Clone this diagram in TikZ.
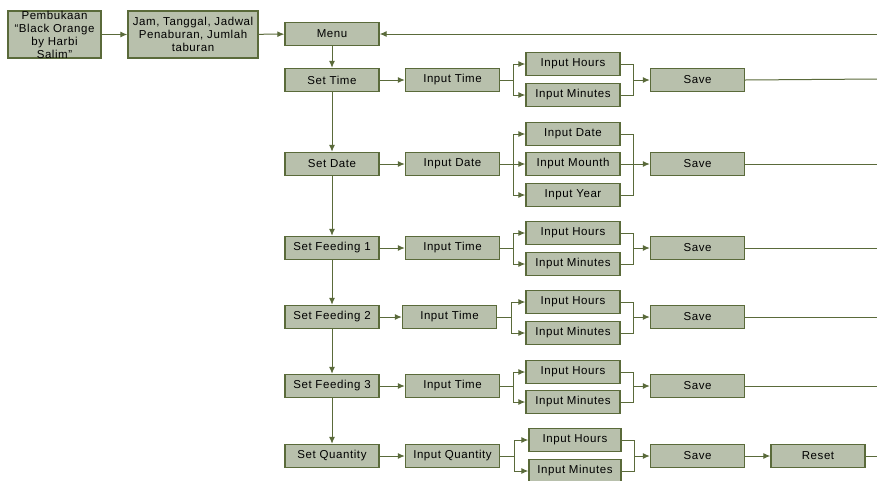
\documentclass[tikz,border=0pt]{standalone}
\usepackage{fontspec}
\setmainfont[LetterSpace=5]{Liberation Sans}
\usetikzlibrary{arrows.meta}
\definecolor{fl}{RGB}{184,192,172}
\definecolor{dk}{RGB}{90,106,58}
\begin{document}
\begin{tikzpicture}[x=1pt,y=-1pt,
  box/.style={draw=dk, fill=fl, line width=1.4pt, minimum width=94pt, minimum height=23pt, inner sep=1pt, font=\fontsize{11.5}{13}\selectfont, align=center},
  txt/.style={font=\fontsize{11.5}{13}\selectfont, align=center, inner sep=0pt},
  con/.style={draw=dk, line width=1pt},
  arr/.style={con, -{Latex[length=7pt,width=6pt]}}]
\useasboundingbox (0,0) rectangle (877,480);
% top row
\node[box, minimum width=93pt, minimum height=47pt] (pem) at (54.5,34.5) {};
\node[txt] (pemt) at (pem) {Pembukaan\\“Black Orange\\by Harbi\\Salim”};
\node[box, minimum width=130pt, minimum height=47pt] (jam) at (193,34.5) {Jam, Tanggal, Jadwal\\Penaburan, Jumlah\\taburan};
\node[box] (menu) at (332,34) {Menu};
\draw[arr] (pem) -- (jam);
\draw[arr] (jam) -- (menu);
\coordinate (r0) at (877,34);
\draw[arr] (r0) -- (menu);
% left column
\node[box] (st) at (332,80) {Set Time};
\node[box] (sd) at (332,164) {Set Date};
\node[box] (sf1) at (332,248) {Set Feeding 1};
\node[box] (sf2) at (332,317) {Set Feeding 2};
\node[box] (sf3) at (332,386) {Set Feeding 3};
\node[box] (sq) at (332,456) {Set Quantity};
\draw[arr] (menu) -- (st);
\draw[arr] (st) -- (sd);
\draw[arr] (sd) -- (sf1);
\draw[arr] (sf1) -- (sf2);
\draw[arr] (sf2) -- (sf3);
\draw[arr] (sf3) -- (sq);
% row: set time
\node[box] (it1) at (452.5,80) {Input Time};
\node[box] (h1) at (573,64) {Input Hours};
\node[box] (m1) at (573,95) {Input Minutes};
\node[box] (sv1) at (697.5,80) {Save};
\draw[arr] (st) -- (it1);
\draw[con] (it1.east) -- ++(13,0) coordinate (s1);
\draw[arr] (s1) |- (h1.west);
\draw[arr] (s1) |- (m1.west);
\draw[con] (h1.east) -- ++(13,0) |- (m1.east);
\draw[arr] ([xshift=13pt]h1.east |- sv1.west) -- (sv1.west);
\coordinate (e1) at (877,79);
\draw[con] (sv1.east) -- (e1);
% row: set date
\node[box] (id2) at (452.5,164) {Input Date};
\node[box] (d2) at (573,134) {Input Date};
\node[box] (mo2) at (573,164) {Input Mounth};
\node[box] (y2) at (573,195) {Input Year};
\node[box] (sv2) at (697.5,164) {Save};
\draw[arr] (sd) -- (id2);
\draw[con] (id2.east) -- ++(13,0) coordinate (s2);
\draw[arr] (s2) |- (d2.west);
\draw[arr] (s2) -- (mo2.west);
\draw[arr] (s2) |- (y2.west);
\draw[con] (d2.east) -- ++(13,0) |- (y2.east);
\draw[con] (mo2.east) -- ++(13,0);
\draw[arr] ([xshift=13pt]mo2.east) -- (sv2.west);
\coordinate (e2) at (877,164);
\draw[con] (sv2.east) -- (e2);
% row: feeding 1
\node[box] (it3) at (452.5,248) {Input Time};
\node[box] (h3) at (573,233) {Input Hours};
\node[box] (m3) at (573,264) {Input Minutes};
\node[box] (sv3) at (697.5,248) {Save};
\draw[arr] (sf1) -- (it3);
\draw[con] (it3.east) -- ++(13,0) coordinate (s3);
\draw[arr] (s3) |- (h3.west);
\draw[arr] (s3) |- (m3.west);
\draw[con] (h3.east) -- ++(13,0) |- (m3.east);
\draw[arr] ([xshift=13pt]h3.east |- sv3.west) -- (sv3.west);
\coordinate (e3) at (877,248);
\draw[con] (sv3.east) -- (e3);
% row: feeding 2
\node[box] (it4) at (449.5,317) {Input Time};
\node[box] (h4) at (573,302) {Input Hours};
\node[box] (m4) at (573,333) {Input Minutes};
\node[box] (sv4) at (697.5,317) {Save};
\draw[arr] (sf2) -- (it4);
\draw[con] (it4.east) -- ++(14,0) coordinate (s4);
\draw[arr] (s4) |- (h4.west);
\draw[arr] (s4) |- (m4.west);
\draw[con] (h4.east) -- ++(13,0) |- (m4.east);
\draw[arr] ([xshift=13pt]h4.east |- sv4.west) -- (sv4.west);
\coordinate (e4) at (877,317);
\draw[con] (sv4.east) -- (e4);
% row: feeding 3
\node[box] (it5) at (452.5,386) {Input Time};
\node[box] (h5) at (573,372) {Input Hours};
\node[box] (m5) at (573,402) {Input Minutes};
\node[box] (sv5) at (697.5,386) {Save};
\draw[arr] (sf3) -- (it5);
\draw[con] (it5.east) -- ++(13,0) coordinate (s5);
\draw[arr] (s5) |- (h5.west);
\draw[arr] (s5) |- (m5.west);
\draw[con] (h5.east) -- ++(13,0) |- (m5.east);
\draw[arr] ([xshift=13pt]h5.east |- sv5.west) -- (sv5.west);
\coordinate (e5) at (877,386);
\draw[con] (sv5.east) -- (e5);
% row: quantity
\node[box] (iq6) at (452.5,456) {Input Quantity};
\node[box, minimum width=92pt] (h6) at (575,440) {Input Hours};
\node[box, minimum width=92pt] (m6) at (575,471) {Input Minutes};
\node[box] (sv6) at (697.5,456) {Save};
\node[box] (rs6) at (818,456) {Reset};
\draw[arr] (sq) -- (iq6);
\draw[con] (iq6.east) -- ++(14,0) coordinate (s6);
\draw[arr] (s6) |- (h6.west);
\draw[arr] (s6) |- (m6.west);
\draw[con] (h6.east) -- ++(13,0) |- (m6.east);
\draw[arr] ([xshift=13pt]h6.east |- sv6.west) -- (sv6.west);
\draw[arr] (sv6) -- (rs6);
\coordinate (e6) at (877,456);
\draw[con] (rs6.east) -- (e6);
\end{tikzpicture}
\end{document}
